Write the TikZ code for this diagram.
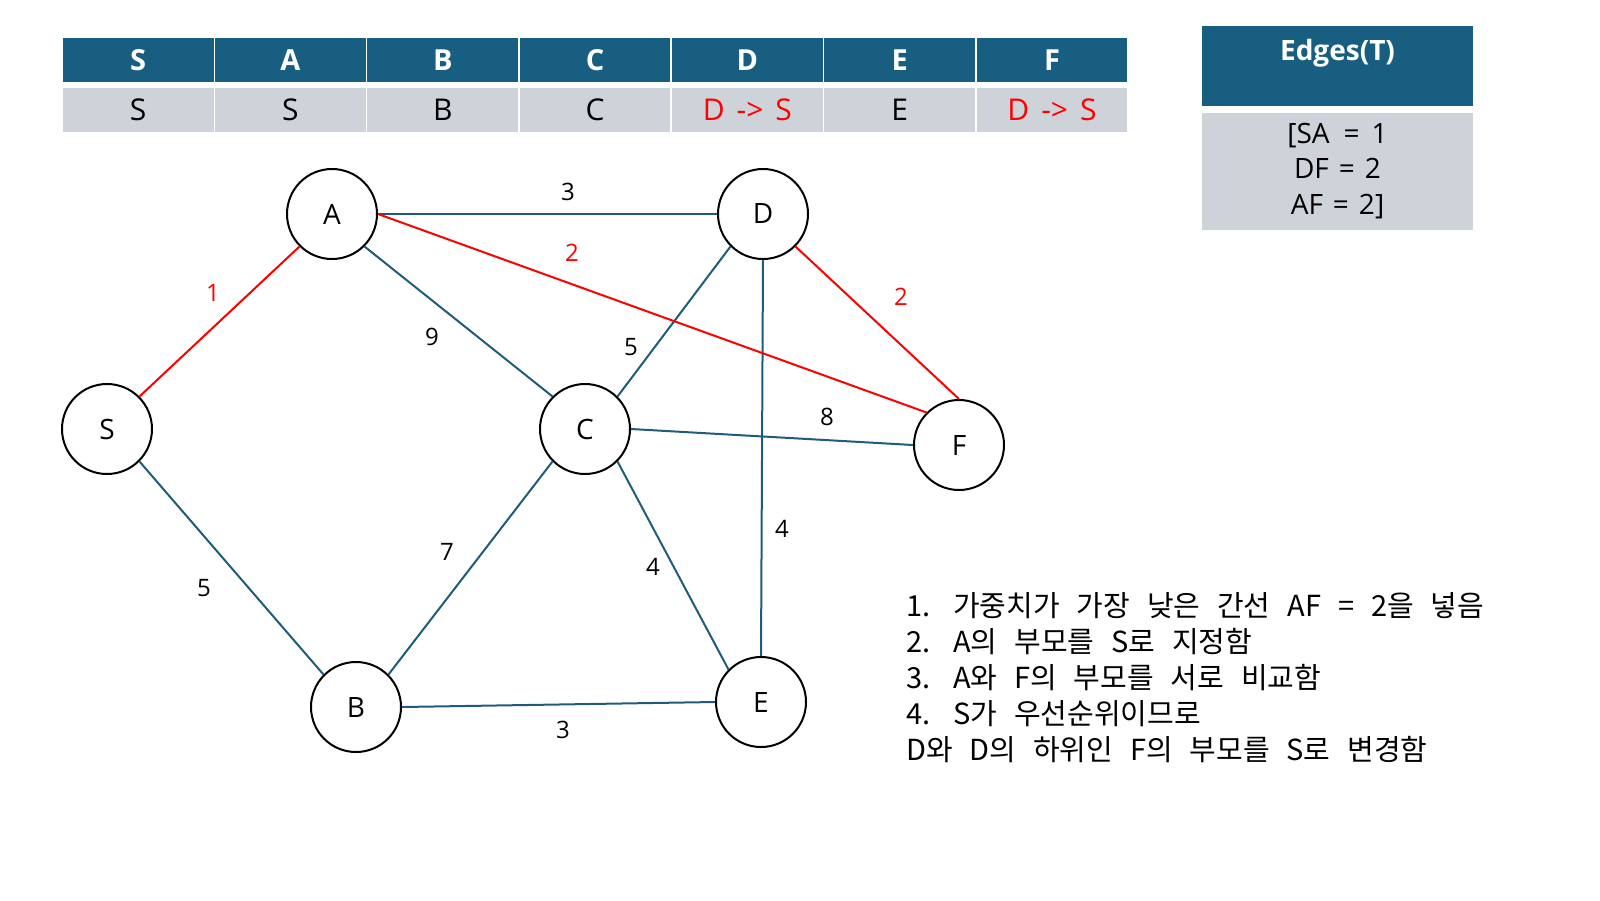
\documentclass[tikz,border=0pt]{standalone}
\usepackage{fontspec}
\setmainfont{Open Sans}
\newfontfamily\krfont[WordSpace=2.6]{Noto Sans CJK KR}
\usetikzlibrary{positioning}
\definecolor{headblue}{RGB}{24,94,128}
\definecolor{cellgray}{RGB}{206,211,218}
\definecolor{edgeblue}{RGB}{30,92,122}
\newcommand{\toS}{D\hspace{12pt}->\hspace{12pt}S}

\begin{document}
\begin{tikzpicture}[
    x=1pt, y=-1pt,
    vertex/.style={draw, circle, line width=2pt, minimum size=90pt, inner sep=0pt, font=\fontsize{28}{32}\selectfont},
    edge/.style={edgeblue, line width=2pt},
    picked/.style={red, line width=2pt},
    weight/.style={font=\fontsize{24}{28}\selectfont},
    hcell/.style={fill=headblue, draw=white, line width=1.5pt, minimum width=152.3pt, minimum height=46pt, text=white, font=\bfseries\fontsize{29}{34}\selectfont},
    dcell/.style={fill=cellgray, draw=white, line width=1.5pt, minimum width=152.3pt, minimum height=46pt, font=\fontsize{30}{34}\selectfont}
]
\useasboundingbox (0,0) rectangle (1600,900);

% parent table
\foreach \name/\val/\col [count=\i from 0] in {S/S/black, A/S/black, B/B/black, C/C/black, D/\toS/red, E/E/black, F/\toS/red} {
    \node[hcell] (h\name) at ({138.15+152.3*\i},60) {\name};
    \node[dcell, text=\col] (p\name) at ({138.15+152.3*\i},110) {\val};
}

% edge list
\node[fill=headblue, minimum width=271pt, minimum height=80pt, inner sep=5pt, text height=29pt, text depth=41pt, text=white, font=\bfseries\fontsize{28}{34}\selectfont] (ehead) at (1337.5,66) {Edges(T)};
\node[fill=cellgray, minimum width=271pt, minimum height=117pt, align=center, font=\fontsize{28}{35.5}\selectfont] (ebody) at (1337.5,171) {[SA\hspace{14pt}=\hspace{12pt}1\\DF\hspace{10pt}=\hspace{10pt}2\\AF\hspace{10pt}=\hspace{10pt}2]};

% graph
\node[vertex] (S) at (107,429) {S};
\node[vertex] (A) at (332,214) {A};
\node[vertex] (B) at (356,707) {B};
\node[vertex] (C) at (585,429) {C};
\node[vertex] (D) at (763,214) {D};
\node[vertex] (E) at (761,702) {E};
\node[vertex] (F) at (959,445) {F};

\draw[edge] (A.east) -- (D.west);
\draw[edge] (A.south east) -- (C.north west);
\draw[edge] (C.north east) -- (D.south west);
\draw[edge] (C.east) -- (F.west);
\draw[edge] (D.south) -- (E.north);
\draw[edge] (S.south east) -- (B.north west);
\draw[edge] (B.north east) -- (C.south west);
\draw[edge] (C.south east) -- (E.north west);
\draw[edge] (B.east) -- (E.west);
\draw[picked] (S.north east) -- (A.south west);
\draw[picked] (A.east) -- (F.north west);
\draw[picked] (D.south east) -- (F.north);

\node[weight] (wAD) at (568,192) {3};
\node[weight, text=red] (wAF) at (572,253) {2};
\node[weight, text=red] (wSA) at (213,293) {1};
\node[weight] (wAC) at (432,337) {9};
\node[weight] (wCD) at (631,347) {5};
\node[weight, text=red] (wDF) at (901,297) {2};
\node[weight] (wCF) at (827,417) {8};
\node[weight] (wDE) at (782,529) {4};
\node[weight] (wBC) at (447,552) {7};
\node[weight] (wCE) at (653,567) {4};
\node[weight] (wSB) at (204,588) {5};
\node[weight] (wBE) at (563,730) {3};

% steps
\node[anchor=north west, align=left, inner sep=0pt, font=\krfont\fontsize{29}{36}\selectfont] (steps) at (906,592) {%
\makebox[47pt][l]{1.}가중치가 가장 낮은 간선 AF = 2을 넣음\\
\makebox[47pt][l]{2.}A의 부모를 S로 지정함\\
\makebox[47pt][l]{3.}A와 F의 부모를 서로 비교함\\
\makebox[47pt][l]{4.}S가 우선순위이므로\\
D와 D의 하위인 F의 부모를 S로 변경함};
\end{tikzpicture}
\end{document}
